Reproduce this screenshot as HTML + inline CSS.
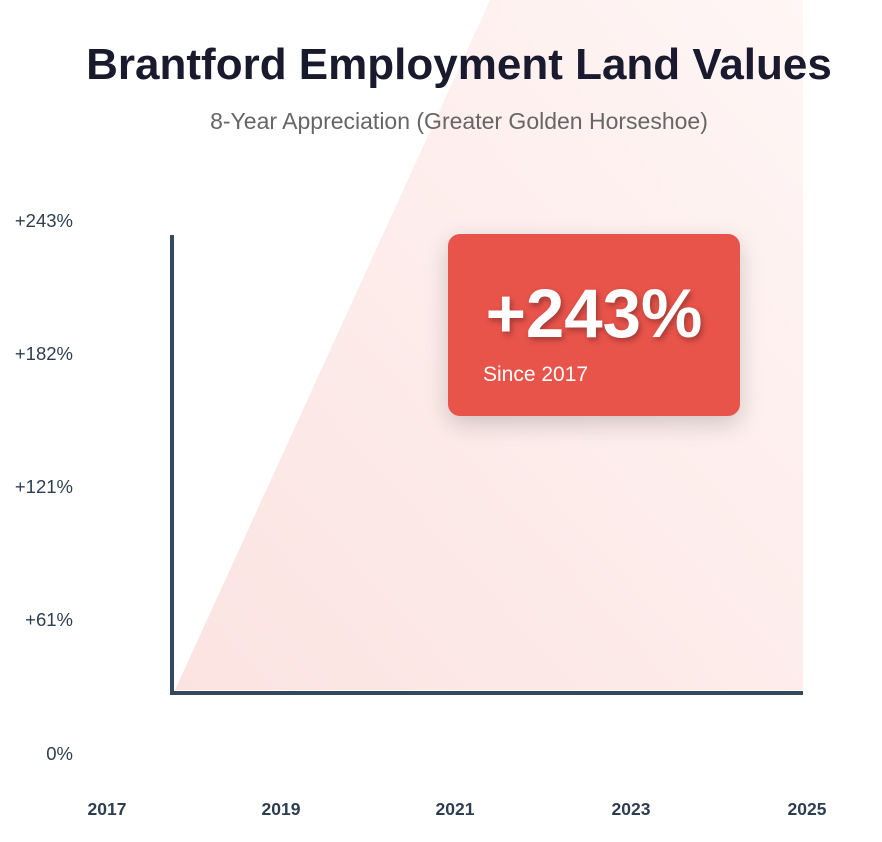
<!DOCTYPE html>
<html><head><style>
body{margin:0;width:882px;height:842px;background:#fff;font-family:"Liberation Sans","DejaVu Sans",sans-serif;overflow:hidden;position:relative}
.t{position:absolute;white-space:nowrap}
.yl{position:absolute;right:809px;font-size:18.5px;color:#2c3e50;font-weight:500}
.xl{position:absolute;top:799px;font-size:17.5px;color:#2c3e50;font-weight:bold;transform:translateX(-50%)}
</style></head><body>
<svg width="882" height="842" style="position:absolute;left:0;top:0">
<defs><linearGradient id="g" x1="0" y1="1" x2="1" y2="0">
<stop offset="0" stop-color="#fbe3e1"/><stop offset="1" stop-color="#fff6f5"/></linearGradient></defs>
<polygon points="175,690 490,0 803,0 803,690" fill="url(#g)"/>
<line x1="172" y1="235" x2="172" y2="695" stroke="#34495e" stroke-width="4"/>
<line x1="170" y1="693" x2="803" y2="693" stroke="#34495e" stroke-width="4"/>
</svg>
<div class="t" style="left:0;width:918px;text-align:center;top:40px;font-size:44px;font-weight:bold;color:#1a1a2e">Brantford Employment Land Values</div>
<div class="t" style="left:0;width:918px;text-align:center;top:108px;font-size:23px;color:#666">8-Year Appreciation (Greater Golden Horseshoe)</div>
<div class="yl" style="top:210px">+243%</div>
<div class="yl" style="top:343px">+182%</div>
<div class="yl" style="top:476px">+121%</div>
<div class="yl" style="top:609px">+61%</div>
<div class="yl" style="top:743px">0%</div>
<div class="xl" style="left:107px">2017</div>
<div class="xl" style="left:281px">2019</div>
<div class="xl" style="left:455px">2021</div>
<div class="xl" style="left:631px">2023</div>
<div class="xl" style="left:807px">2025</div>
<div style="position:absolute;left:448px;top:234px;width:292px;height:182px;background:#e8534a;border-radius:12px;box-shadow:0 8px 24px rgba(0,0,0,0.18)">
<div class="t" style="left:0;width:292px;text-align:center;top:40px;font-size:69px;font-weight:bold;color:#fff;text-shadow:2px 3px 6px rgba(0,0,0,0.3)">+243%</div>
<div class="t" style="left:35px;top:129px;font-size:21px;color:#fff">Since 2017</div>
</div>
</body></html>
